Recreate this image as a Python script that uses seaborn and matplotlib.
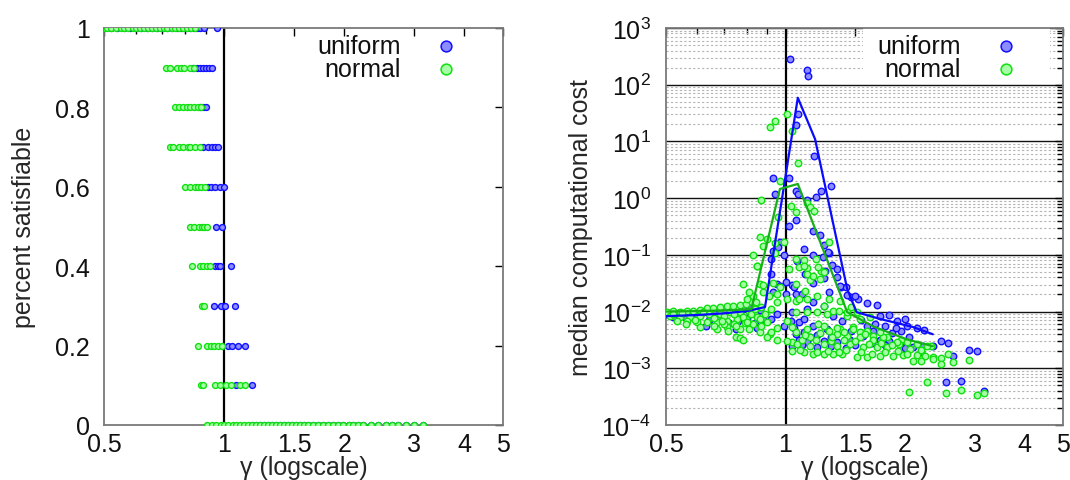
import numpy as np
import pandas as pd
import matplotlib
matplotlib.use("Agg")
import matplotlib.pyplot as plt
import seaborn as sns
from matplotlib.patches import Rectangle
from matplotlib.ticker import FixedLocator, FixedFormatter, NullFormatter, LogLocator

# ---------------------------------------------------------------- data
# percent satisfiable levels and the gamma values observed at each level
sat_levels = [1.0, 0.9, 0.8, 0.7, 0.6, 0.5, 0.4, 0.3, 0.2, 0.1, 0.0]

uniform_sat_gamma = [
    [0.50, 0.52, 0.54, 0.56, 0.58, 0.60, 0.62, 0.64, 0.66, 0.68, 0.70, 0.72,
     0.74, 0.76, 0.78, 0.80, 0.82, 0.84, 0.855, 0.87, 0.89, 0.96],
    [0.835, 0.855, 0.87, 0.885, 0.90, 0.915, 0.935],
    [0.87, 0.885, 0.90],
    [0.885, 0.91, 0.935, 0.95, 0.965],
    [0.91, 0.925, 0.95, 0.975, 1.0],
    [0.955, 0.99],
    [0.95, 0.965, 0.975, 1.04],
    [0.945, 0.98, 1.005, 1.065],
    [1.02, 1.047, 1.085, 1.13],
    [1.07, 1.175],
    [1.175, 1.2, 1.23, 1.26, 1.29, 1.32, 1.35, 1.38, 1.415, 1.45, 1.48, 1.515,
     1.55, 1.59, 1.625, 1.67, 1.72, 1.77, 1.82, 1.88, 1.93, 1.99, 2.05, 2.11,
     2.17, 2.23, 2.33, 2.43, 2.54, 2.64, 2.73, 2.86, 3.0, 3.16],
]

normal_sat_gamma = [
    [0.50, 0.51, 0.52, 0.535, 0.55, 0.56, 0.575, 0.59, 0.60, 0.615, 0.63, 0.645,
     0.66, 0.675, 0.69, 0.705, 0.72, 0.74, 0.755, 0.77, 0.79, 0.805, 0.825, 0.845],
    [0.715, 0.73, 0.76, 0.78, 0.795, 0.82, 0.84],
    [0.755, 0.77, 0.79, 0.805, 0.82, 0.84, 0.86, 0.875],
    [0.73, 0.745, 0.77, 0.79, 0.81, 0.82, 0.845, 0.87],
    [0.80, 0.82, 0.845, 0.86, 0.875, 0.895],
    [0.82, 0.84, 0.865, 0.88, 0.89, 0.905],
    [0.83, 0.87, 0.885, 0.905, 0.92],
    [0.88, 0.89],
    [0.86, 0.905, 0.925, 0.945, 0.965, 0.99],
    [0.875, 0.885, 0.95, 0.975, 1.01, 1.04, 1.095, 1.13],
    [0.905, 0.93, 0.955, 0.98, 1.0, 1.025, 1.05, 1.07, 1.095, 1.12, 1.15, 1.175,
     1.2, 1.23, 1.26, 1.29, 1.32, 1.35, 1.38, 1.415, 1.45, 1.48, 1.515, 1.55,
     1.59, 1.625, 1.67, 1.72, 1.77, 1.82, 1.88, 1.93, 1.99, 2.05, 2.11, 2.17,
     2.23, 2.33, 2.43, 2.54, 2.64, 2.73, 2.86, 3.0, 3.16],
]

# median computational cost per instance class
uniform_gamma = [
    0.50, 0.52, 0.54, 0.56, 0.58, 0.60, 0.62, 0.64, 0.66, 0.68, 0.70, 0.72,
    0.74, 0.76, 0.78, 0.80, 0.82, 0.84, 0.86, 0.88, 0.63, 0.75, 0.85,
    1.026, 1.13, 1.14, 1.075, 1.06, 1.18, 0.93, 1.02, 1.30, 1.23, 0.94, 1.06,
    1.075, 1.19, 1.13, 1.06, 1.02, 1.17, 1.22, 0.97, 1.25, 1.11, 1.29, 1.17,
    0.93, 0.92, 0.96, 0.99, 1.07, 1.31, 1.35, 1.26, 1.35, 1.12, 1.25, 1.17,
    0.92, 0.95, 0.97, 1.04, 1.05, 1.0, 1.38, 1.42, 0.93, 1.0, 1.06, 1.1,
    1.29, 1.37, 1.46, 1.17, 1.25, 1.13, 1.32, 1.39, 1.08, 1.17, 1.27, 1.06,
    1.15, 1.25, 1.35, 1.04, 1.04, 1.03, 1.11, 0.99, 1.11, 1.08, 1.13, 0.92,
    0.95, 1.28, 1.24,
    1.82, 1.95, 2.02, 2.14, 2.23, 1.70, 1.60, 1.52, 1.50, 1.43, 1.73, 1.91,
    1.46, 1.57, 1.73, 1.82, 1.95, 2.10, 2.22, 2.19, 2.0, 2.46, 2.57, 2.9,
    3.03, 2.64, 2.35, 2.54, 2.76, 3.16, 1.6, 1.66, 1.55, 1.85, 2.05,
    1.1, 1.2, 1.3, 1.42, 1.5, 1.65, 1.78, 2.0, 1.2, 1.3, 1.45, 1.68, 1.78,
    1.9, 1.05,
]
uniform_cost = [
    8.9e-3, 7.9e-3, 9.5e-3, 7.6e-3, 8.3e-3, 7.9e-3, 1.0e-2, 7.1e-3, 9.3e-3, 7.9e-3, 1.05e-2, 6.3e-3,
    1.0e-2, 6.9e-3, 1.1e-2, 7.6e-3, 1.17e-2, 6.3e-3, 1.07e-2, 7.4e-3, 5.6e-3, 5.0e-3, 5.2e-3,
    282, 182, 141, 30.2, 19.5, 5.5, 2.24, 2.24, 1.62, 1.35, 1.17, 1.35,
    1.17, 1.05, 0.93, 0.41, 0.32, 0.26, 0.22, 0.17, 0.15, 0.125, 0.11, 0.10,
    0.117, 0.085, 0.138, 0.10, 0.078, 0.066, 0.056, 0.051, 0.041, 0.046, 0.039, 0.032,
    0.046, 0.031, 0.028, 0.030, 0.027, 0.033, 0.027, 0.027, 0.022, 0.020, 0.020, 0.020,
    0.022, 0.028, 0.018, 0.0148, 0.0126, 0.011, 0.0083, 0.0068, 0.0065, 0.0055, 0.0049, 0.0040,
    0.0035, 0.0030, 0.0029, 0.00245, 0.010, 0.0068, 0.0074, 0.0055, 0.0044, 0.0032, 0.0029, 0.0074,
    0.0091, 0.112, 0.091,
    0.0087, 0.0046, 0.0055, 0.0051, 0.0047, 0.0129, 0.0141, 0.0166, 0.0186, 0.0195, 0.0083, 0.0068,
    0.0046, 0.0037, 0.0032, 0.0030, 0.0029, 0.00234, 0.00245, 0.0019, 0.0074, 0.0030, 0.00275, 0.0021,
    0.0020, 0.00166, 0.00245, 5.75e-4, 5.9e-4, 4.0e-4, 0.0056, 0.0045, 0.0071, 0.0042, 0.0035,
    0.0026, 0.0024, 0.0025, 0.0023, 0.0026, 0.0028, 0.0026, 0.0023, 0.0039, 0.0036, 0.0031, 0.0061, 0.0055,
    0.0052, 0.0052,
]

normal_gamma = [
    0.503, 0.52, 0.541, 0.565, 0.585, 0.609, 0.634, 0.656, 0.684, 0.712, 0.737, 0.767, 0.797, 0.824,
    0.511, 0.541, 0.574, 0.609, 0.643, 0.684, 0.724, 0.767, 0.81,
    0.532, 0.565, 0.598, 0.634, 0.672, 0.712, 0.755, 0.797, 0.846,
    0.609, 0.672, 0.712, 0.767, 0.81, 0.862, 0.912,
    0.52, 0.55, 0.59, 0.62, 0.66, 0.70, 0.74, 0.78, 0.82, 0.84, 0.70, 0.74, 0.79, 0.83, 0.66, 0.56,
    0.87, 0.89, 0.90, 0.87, 0.693, 0.717, 0.75, 0.767, 0.783,
    0.78, 0.83, 0.86, 0.88, 0.85, 0.92, 0.81, 0.91, 0.845, 0.80,
    1.01, 0.914, 0.94, 1.04, 1.075, 0.968, 0.87, 1.13, 1.15, 1.18, 1.03, 1.06, 0.96, 0.86, 0.9,
    1.29, 0.99, 0.94, 0.88, 0.83, 0.94, 1.19, 1.11, 0.85, 1.08, 1.13, 1.23, 1.02, 1.15, 1.22,
    0.88, 0.93, 0.97, 0.95, 1.01, 0.95, 1.06, 1.13,
    1.01, 0.95, 1.06, 1.15, 1.04, 0.9, 0.95, 1.01, 0.92, 0.86, 0.80, 0.75,
    1.06, 1.11, 1.13, 1.21, 1.17, 1.25, 1.06, 1.12, 1.08, 1.2, 1.29, 1.37, 1.46, 1.25, 1.32, 1.43,
    1.54, 1.63,
    1.04, 1.13, 1.21, 1.29, 1.37, 1.48, 1.54, 1.66, 1.8, 1.95, 2.14, 2.32,
    1.04, 1.11, 1.17, 1.25, 1.32, 1.39, 1.51, 1.6, 1.73, 1.87, 1.98, 2.1, 2.25, 2.35,
    1.07, 1.15, 1.25, 1.35, 1.45, 1.57, 1.7, 1.8, 1.93, 2.06,
    1.35, 1.43, 1.54, 1.66, 1.76, 1.91, 2.02, 2.27,
    1.25, 1.35, 1.48, 1.6, 1.73, 1.51, 1.43, 1.36, 1.27, 1.2, 1.13, 1.06,
    2.27, 2.05, 2.54, 2.76, 3.03, 3.16, 2.57, 2.9, 2.64, 2.47, 2.46, 2.35, 2.19,
    1.09, 1.2, 1.28, 1.36, 1.42, 1.55, 1.65, 1.78, 1.92, 2.02, 2.15, 1.1, 1.19,
    1.3, 1.4, 1.5, 1.62, 1.74, 1.85, 2.2, 1.12, 1.22, 1.31, 1.4, 1.59,
]
normal_cost = [
    1.0e-2, 1.02e-2, 1.0e-2, 1.02e-2, 1.02e-2, 1.07e-2, 1.15e-2, 1.15e-2, 1.2e-2, 1.26e-2, 1.26e-2, 1.29e-2, 1.35e-2, 1.48e-2,
    8.3e-3, 7.9e-3, 7.9e-3, 8.3e-3, 9.1e-3, 9.1e-3, 1.0e-2, 1.0e-2, 1.02e-2,
    6.8e-3, 6.8e-3, 6.5e-3, 6.5e-3, 6.5e-3, 6.8e-3, 7.4e-3, 7.4e-3, 7.9e-3,
    5.4e-3, 4.9e-3, 5.4e-3, 4.9e-3, 4.9e-3, 4.4e-3, 4.0e-3,
    8.9e-3, 9.3e-3, 7.2e-3, 9.8e-3, 7.6e-3, 8.5e-3, 8.9e-3, 8.1e-3, 8.9e-3, 1.1e-2, 6.0e-3, 6.0e-3, 6.2e-3, 6.0e-3, 5.6e-3, 6.0e-3,
    1.2e-2, 9.0e-3, 6.5e-3, 5.5e-3, 6.8e-3, 4.6e-3, 3.5e-3, 3.4e-3, 3.2e-3,
    0.031, 0.0186, 0.031, 0.022, 0.063, 0.011, 0.022, 0.0186, 0.0148, 0.0166,
    30, 18, 23, 15, 4.2, 2.0, 0.93, 0.81, 0.69, 0.59, 0.72, 0.56, 0.47, 0.21, 0.19,
    0.17, 0.17, 0.16, 0.145, 0.10, 0.107, 0.085, 0.081, 0.063, 0.062, 0.059, 0.052, 0.056, 0.036, 0.037,
    0.030, 0.032, 0.027, 0.020, 0.0166, 0.0148, 0.0155, 0.0166,
    0.0068, 0.0052, 0.0044, 0.0035, 0.0029, 0.0035, 0.0032, 0.0030, 0.0044, 0.0074, 0.0065, 0.0055,
    0.085, 0.063, 0.046, 0.062, 0.043, 0.05, 0.031, 0.023, 0.0166, 0.0186, 0.0166, 0.0155, 0.012, 0.0126, 0.0102, 0.0083,
    0.0074, 0.0079,
    0.0054, 0.0049, 0.006, 0.0046, 0.0049, 0.0054, 0.0044, 0.0037, 0.0035, 0.0032, 0.0027, 0.00245,
    0.0020, 0.0019, 0.00178, 0.00178, 0.00178, 0.00178, 0.00158, 0.00158, 0.00166, 0.00166, 0.0017, 0.00135, 0.00162, 0.0016,
    0.0027, 0.00245, 0.0027, 0.00245, 0.0027, 0.00234, 0.00234, 0.00234, 0.0027, 0.0022,
    0.0040, 0.0037, 0.0035, 0.0032, 0.0035, 0.0029, 0.0029, 0.00245,
    0.0055, 0.0052, 0.0049, 0.0046, 0.0044, 0.0098, 0.0098, 0.0102, 0.0091, 0.0098, 0.0098, 0.010,
    5.7e-4, 3.8e-4, 3.6e-4, 4.2e-4, 3.4e-4, 3.6e-4, 0.00178, 0.00138, 0.00129, 0.00151, 0.00117, 0.00145, 0.00135,
    0.0021, 0.0019, 0.0020, 0.0019, 0.0021, 0.0019, 0.0018, 0.0019, 0.0020, 0.0018, 0.0017, 0.0031, 0.0032,
    0.0030, 0.0032, 0.0030, 0.0027, 0.0028, 0.0026, 0.0021, 0.0039, 0.0042, 0.0036, 0.0043, 0.0040,
]

# median curves
uniform_median_gamma = [0.5, 0.6, 0.7, 0.8, 0.888, 1.074, 1.187, 1.43, 1.51, 1.73, 2.09, 2.35]
uniform_median_cost = [8.3e-3, 8.7e-3, 9.3e-3, 1.02e-2, 1.2e-2, 58.9, 11.0, 0.0251, 0.00977, 0.00741, 0.00537, 0.00398]
normal_median_gamma = [0.5, 0.6, 0.7, 0.82, 0.968, 1.074, 1.43, 1.66, 2.02, 2.35]
normal_median_cost = [1.0e-2, 1.02e-2, 1.05e-2, 1.1e-2, 1.45, 1.78, 0.0098, 0.0055, 0.00324, 0.00245]

x_ticks = [0.5, 1, 1.5, 2, 3, 4, 5]
x_tick_labels = ["0.5", "1", "1.5", "2", "3", "4", "5"]
x_minor_ticks = [0.6, 0.7, 0.8, 0.9]
sat_ticks = [0, 0.2, 0.4, 0.6, 0.8, 1]
sat_tick_labels = ["0", "0.2", "0.4", "0.6", "0.8", "1"]
series_names = ["uniform", "normal"]

# ---------------------------------------------------------------- style
sns.set_theme(style="white")
plt.rcParams["font.family"] = ["Liberation Sans", "DejaVu Sans"]
plt.rcParams["mathtext.fontset"] = "custom"
plt.rcParams["mathtext.rm"] = "Liberation Sans"
plt.rcParams["mathtext.it"] = "Liberation Sans:italic"
plt.rcParams["axes.unicode_minus"] = False

FS = 18
FACE = {"uniform": "#8c8cff", "normal": "#a6ffa6"}
EDGE = {"uniform": "#1010ff", "normal": "#10e010"}
LINE = {"uniform": "#0a0aff", "normal": "#18b018"}
SPINE = "#7a7a7a"

sat_frames = []
for name, rows in zip(series_names, [uniform_sat_gamma, normal_sat_gamma]):
    for level, gammas in zip(sat_levels, rows):
        sat_frames.append(pd.DataFrame({"gamma": gammas, "sat": level, "dist": name}))
sat_df = pd.concat(sat_frames, ignore_index=True)

cost_df = pd.concat([
    pd.DataFrame({"gamma": uniform_gamma, "cost": uniform_cost, "dist": "uniform"}),
    pd.DataFrame({"gamma": normal_gamma, "cost": normal_cost, "dist": "normal"}),
], ignore_index=True)

median_df = pd.concat([
    pd.DataFrame({"gamma": uniform_median_gamma, "cost": uniform_median_cost, "dist": "uniform"}),
    pd.DataFrame({"gamma": normal_median_gamma, "cost": normal_median_cost, "dist": "normal"}),
], ignore_index=True)

fig = plt.figure(figsize=(10.7, 4.81), dpi=100)
W, H = 1070, 481
ax1 = fig.add_axes([104 / W, 55 / H, 399 / W, 397 / H])
ax2 = fig.add_axes([666 / W, 55 / H, 397 / W, 397 / H])


def style_x(ax):
    ax.set_xscale("log")
    ax.set_xlim(0.5, 5)
    ax.xaxis.set_major_locator(FixedLocator(x_ticks))
    ax.xaxis.set_major_formatter(FixedFormatter(x_tick_labels))
    ax.xaxis.set_minor_locator(FixedLocator(x_minor_ticks))
    ax.xaxis.set_minor_formatter(NullFormatter())
    ax.set_xlabel("γ (logscale)", fontsize=FS, labelpad=-1)
    ax.axvline(1.0, color="black", lw=1.6, zorder=1.8)
    for s in ax.spines.values():
        s.set_color(SPINE)
        s.set_linewidth(1.3)
    ax.tick_params(which="both", direction="in", top=True, right=True,
                   labelsize=FS, color="black", labelcolor="#111111")
    ax.tick_params(which="major", length=6, width=1)
    ax.tick_params(which="minor", length=4, width=1)
    ax.tick_params(axis="x", pad=5)


def draw_key(ax, with_box):
    if with_box:
        ax.add_patch(Rectangle((0.496, 0.862), 0.472, 0.138, transform=ax.transAxes,
                               facecolor="white", edgecolor="none", zorder=2.5))
    for i, name in enumerate(series_names):
        y = 0.954 - i * 0.058
        ax.text(0.743, y, name, transform=ax.transAxes, ha="right", va="center",
                fontsize=FS, color="#111111", zorder=6)
        ax.scatter([0.856], [y], transform=ax.transAxes, s=60, c=[FACE[name]],
                   edgecolors=[EDGE[name]], linewidths=1.1, zorder=6, clip_on=False)


# ---------------------------------------------------------------- left panel
for name in series_names:
    sub = sat_df[sat_df["dist"] == name]
    sns.scatterplot(data=sub, x="gamma", y="sat", ax=ax1, color=FACE[name],
                    edgecolor=EDGE[name], linewidth=1.0, s=18, legend=False, zorder=3)
style_x(ax1)
ax1.set_ylim(0, 1)
ax1.yaxis.set_major_locator(FixedLocator(sat_ticks))
ax1.yaxis.set_major_formatter(FixedFormatter(sat_tick_labels))
ax1.tick_params(axis="y", pad=10)
ax1.set_ylabel("percent satisfiable", fontsize=FS, labelpad=14)
draw_key(ax1, with_box=False)

# ---------------------------------------------------------------- right panel
for name in series_names:
    sub = cost_df[cost_df["dist"] == name]
    sns.scatterplot(data=sub, x="gamma", y="cost", ax=ax2, color=FACE[name],
                    edgecolor=EDGE[name], linewidth=1.0, s=22, legend=False, zorder=3)
for name in series_names:
    sub = median_df[median_df["dist"] == name]
    sns.lineplot(data=sub, x="gamma", y="cost", ax=ax2, color=LINE[name], lw=1.6,
                 sort=False, estimator=None, legend=False, zorder=4)
ax2.set_yscale("log")
ax2.set_ylim(1e-4, 1e3)
ax2.yaxis.set_major_locator(LogLocator(base=10, numticks=20))
ax2.yaxis.set_minor_locator(LogLocator(base=10, subs=np.arange(2, 10), numticks=100))
ax2.yaxis.set_minor_formatter(NullFormatter())
style_x(ax2)
ax2.tick_params(axis="y", pad=11)
ax2.set_axisbelow(True)
ax2.grid(True, axis="y", which="minor", color="#b4b4b4", lw=0.8, ls=(0, (2, 2)))
ax2.grid(True, axis="y", which="major", color="#111111", lw=1.0, ls="-")
ax2.grid(False, axis="x", which="both")
ax2.set_ylabel("median computational cost", fontsize=FS, labelpad=6)
draw_key(ax2, with_box=True)

fig.savefig("out.png", dpi=100)
